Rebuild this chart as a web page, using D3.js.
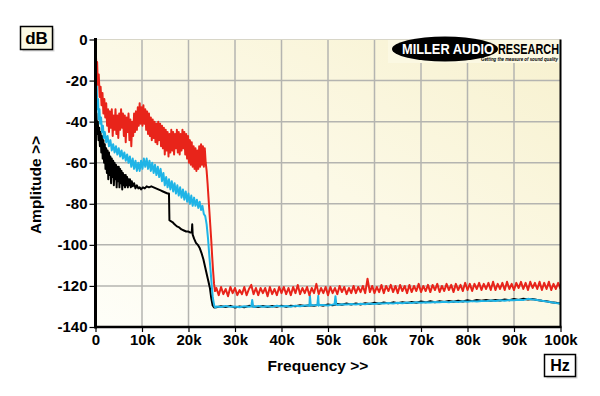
<!DOCTYPE html>
<html><head><meta charset="utf-8">
<script src="https://cdn.jsdelivr.net/npm/d3@7"></script>
<style>html,body{margin:0;padding:0;background:#fff;}svg{display:block;}</style>
</head><body>
<svg id="c" width="600" height="396"></svg>
<script>
// ---- tick labels ----
const xTicks = [0,10,20,30,40,50,60,70,80,90,100];
const xTickLabels = ["0","10k","20k","30k","40k","50k","60k","70k","80k","90k","100k"];
const yTicks = [0,-20,-40,-60,-80,-100,-120,-140];

// ---- passband data [kHz, dB] ----
const redPass = [[0.05,-12],[0.1,-8],[0.2,-14],[0.35,-11],[0.5,-22],[0.7,-17],[0.9,-28],[1.1,-23],[1.3,-32],[1.5,-26],[1.7,-36],[1.9,-29],[2.1,-38],[2.3,-31],[2.5,-42],[2.7,-34],[2.9,-45],[3.1,-35],[3.3,-43],[3.5,-34],[3.7,-47],[3.9,-37],[4.1,-44],[4.3,-34],[4.5,-46],[4.7,-37],[4.9,-48],[5.1,-36],[5.3,-44],[5.5,-34],[5.7,-43],[5.9,-36],[6.1,-47],[6.3,-37],[6.5,-50],[6.7,-38],[6.9,-45],[7.1,-36],[7.3,-49],[7.5,-39],[7.7,-52],[7.9,-40],[8.1,-47],[8.3,-36],[8.5,-45],[8.7,-35],[8.9,-44],[9.1,-33],[9.3,-42],[9.5,-31],[9.7,-41],[9.9,-33],[10.1,-42],[10.3,-32],[10.5,-41],[10.7,-34],[10.9,-44],[11.1,-35],[11.3,-46],[11.5,-36],[11.7,-47],[11.9,-38],[12.1,-49],[12.3,-39],[12.5,-48],[12.7,-40],[12.9,-50],[13.1,-41],[13.3,-51],[13.5,-40],[13.7,-49],[13.9,-41],[14.1,-52],[14.3,-42],[14.5,-53],[14.7,-43],[14.9,-56],[15.1,-44],[15.3,-54],[15.5,-45],[15.7,-57],[15.9,-46],[16.1,-55],[16.3,-44],[16.5,-54],[16.7,-45],[16.9,-56],[17.1,-46],[17.3,-53],[17.5,-44],[17.7,-55],[17.9,-45],[18.1,-56],[18.3,-46],[18.5,-54],[18.7,-44],[18.9,-53],[19.1,-45],[19.3,-56],[19.5,-46],[19.7,-58],[19.9,-47],[20.1,-60],[20.3,-49],[20.5,-61],[20.7,-50],[20.9,-62],[21.1,-52],[21.3,-63],[21.5,-53],[21.7,-64],[21.9,-54],[22.1,-63],[22.3,-52],[22.5,-62],[22.7,-51],[22.9,-61],[23.1,-52],[23.3,-62],[23.5,-53],[23.7,-60],[23.9,-64],[24.1,-70],[24.3,-77],[24.5,-84],[24.7,-91],[24.9,-98],[25.1,-106],[25.3,-113],[25.5,-119],[25.7,-122.5],[25.9,-122]];

const cyanPass = [[0.05,-24],[0.15,-31],[0.25,-22],[0.4,-34],[0.55,-29],[0.7,-39],[0.85,-34],[1.0,-41],[1.2,-38],[1.4,-45],[1.6,-42],[1.8,-48],[2.0,-45],[2.3,-50],[2.6,-47],[2.9,-52],[3.2,-49],[3.5,-54],[3.8,-51],[4.1,-55],[4.4,-52],[4.7,-56],[5.0,-53],[5.3,-57],[5.6,-54],[5.9,-58],[6.2,-55],[6.5,-59],[6.8,-56],[7.1,-60],[7.4,-57],[7.7,-62],[8.0,-58],[8.3,-63],[8.6,-59],[8.9,-64],[9.2,-60],[9.5,-64],[9.8,-59],[10.1,-63],[10.4,-58],[10.7,-62],[11.0,-58],[11.3,-63],[11.6,-59],[11.9,-64],[12.2,-60],[12.5,-65],[12.8,-61],[13.1,-66],[13.4,-62],[13.7,-67],[14.0,-63],[14.3,-69],[14.6,-65],[14.9,-71],[15.2,-67],[15.5,-72],[15.8,-68],[16.1,-73],[16.4,-69],[16.7,-74],[17.0,-70],[17.3,-75],[17.6,-71],[17.9,-76],[18.2,-72],[18.5,-77],[18.8,-73],[19.1,-78],[19.4,-74],[19.7,-79],[20.0,-75],[20.3,-80],[20.6,-76],[20.9,-81],[21.2,-77],[21.5,-81],[21.8,-78],[22.1,-82],[22.4,-79],[22.7,-83],[23.0,-81],[23.3,-85],[23.6,-86],[23.9,-90],[24.2,-97],[24.5,-106],[24.8,-114],[25.0,-120],[25.2,-125],[25.4,-128],[25.6,-130],[25.8,-130.5]];

const blackPass = [[0.05,-40],[0.2,-36],[0.35,-46],[0.5,-40],[0.65,-49],[0.8,-43],[0.95,-52],[1.1,-45],[1.25,-55],[1.4,-47],[1.55,-58],[1.7,-49],[1.85,-60],[2.0,-51],[2.15,-63],[2.3,-53],[2.45,-65],[2.6,-54],[2.75,-68],[2.9,-55],[3.05,-66],[3.2,-57],[3.35,-70],[3.5,-58],[3.65,-67],[3.8,-59],[3.95,-71],[4.1,-60],[4.25,-68],[4.4,-61],[4.55,-72],[4.7,-62],[4.85,-69],[5.0,-62],[5.15,-72],[5.3,-63],[5.45,-70],[5.6,-64],[5.75,-73],[5.9,-65],[6.05,-71],[6.2,-66],[6.35,-72],[6.5,-66],[6.65,-71],[6.8,-67],[6.95,-72],[7.1,-68],[7.25,-71],[7.4,-68],[7.6,-72],[7.8,-69],[8.0,-71.5],[8.3,-70],[8.6,-72.5],[8.9,-71],[9.2,-72.5],[9.5,-72],[9.8,-73],[10.2,-72],[10.6,-72.5],[11.0,-71.5],[11.5,-72],[12.0,-71.5],[12.5,-72],[13.0,-72.5],[13.5,-73],[14.0,-73.5],[14.5,-74],[15.0,-74.5],[15.5,-75],[15.8,-75],[15.9,-88],[16.2,-88.5],[16.6,-89],[17.0,-90],[17.5,-91],[18.0,-91.5],[18.5,-92.5],[19.0,-93],[19.5,-93.5],[20.0,-93.5],[20.4,-94],[20.7,-94],[20.8,-90],[20.9,-95],[21.2,-97],[21.6,-99],[22.0,-100],[22.4,-101.5],[22.8,-104],[23.2,-107],[23.6,-111],[24.0,-115],[24.3,-118],[24.6,-121],[24.9,-126],[25.2,-129.5],[25.5,-130.5]];

// ---- noise floor data, 26k..100k ----
const redFloorStart = 26, redFloorStep = 0.5;
const redFloor = [
 -121,-124.5,-120.5,-124,-121.5,-125,-120.5,-123.5,-121,-124.5,-122,-124,-120.5,-124.5,-121.5,-119.5,-124,-121,-124.5,-121,
 -123.5,-121,-125,-120.5,-124,-121.5,-124.5,-120.5,-123.5,-120.5,-124,-121,-124.5,-120.5,-123.5,-119.5,-124,-121,-123.5,-120.5,
 -124.5,-121,-123.5,-119,-124,-121,-123.5,-120.5,-124.5,-120.5,-123.5,-121,-124,-120,-123,-120.5,-124,-121,-123.5,-120,
 -123.5,-120.5,-123,-120,-123.5,-116.5,-123,-120,-123.5,-120.5,-123,-119.5,-123.5,-120,-122.5,-119.5,-123,-120,-123.5,-119.5,
 -122.5,-120,-123.5,-119.5,-123,-120,-122.5,-119,-123,-120,-122.5,-119.5,-123,-119.5,-122,-119,-123,-120,-122.5,-119,
 -122,-119.5,-123,-119,-122,-119.5,-122.5,-118.5,-122,-119,-122.5,-119,-121.5,-118.5,-122,-119,-121.5,-118.5,-122,-118,
 -122,-119,-121.5,-118.5,-122,-118,-121.5,-119,-122,-118.5,-121,-118,-121.5,-118.5,-122,-118,-121,-118.5,-121.5,-118,
 -122,-118.5,-121.5,-118,-122,-119,-121.5,-118.5,-121.5];

const lowFloorStart = 26, lowFloorStep = 1;
const cyanFloor = [-130,-130.3,-129.8,-130.2,-130,-130.4,-129.9,-130.1,-130.3,-129.8,-130.1,-129.9,-130.2,-129.7,-130,-129.8,-130.1,-129.6,-129.9,-129.5,-129.8,-129.4,-129.6,-129.3,-129.5,-129.1,-129.3,-128.9,-129.1,-128.8,-129,-128.7,-128.9,-128.6,-128.8,-128.4,-128.6,-128.3,-128.5,-128.2,-128.4,-128.1,-128.3,-128,-128.2,-127.9,-128.1,-127.8,-128,-127.7,-127.9,-127.6,-127.8,-127.5,-127.7,-127.4,-127.6,-127.3,-127.4,-127.1,-127.3,-127,-127.2,-126.8,-127,-126.7,-126.9,-126.3,-126.6,-126.9,-127.2,-127.6,-127.9,-128.3,-128.6];
const cyanSpikes = [[33.5,-130],[33.7,-126.8],[33.9,-129.9],[45.9,-129.4],[46.1,-124.6],[46.3,-129.4],[47.7,-129.3],[47.9,-124.8],[48.1,-129.3],[51.4,-129],[51.6,-125],[51.8,-129]];
const blackFloor = [-130.4,-129.9,-130.3,-129.7,-130.5,-130,-130.4,-129.7,-130,-130.3,-129.8,-130.3,-129.8,-130.1,-129.6,-130.2,-129.7,-129.9,-129.4,-129.8,-129.4,-129.7,-129.2,-129.6,-129,-129.4,-128.8,-129.2,-128.6,-129.1,-128.5,-129,-128.4,-128.8,-128.2,-128.7,-128.1,-128.5,-128,-128.4,-127.9,-128.3,-127.8,-128.2,-127.6,-128,-127.5,-127.9,-127.4,-127.8,-127.3,-127.7,-127.2,-127.6,-127,-127.4,-126.9,-127.2,-126.8,-127.2,-126.8,-127.1,-126.6,-127,-126.4,-126.8,-126.2,-126.6,-126.4,-126.8,-127.2,-127.5,-127.9,-128.2,-128.5];

// ---- build series ----
function floorSeries(start, step, vals){ return vals.map((v,i)=>[start+i*step, v]); }
const redData = redPass.concat(floorSeries(redFloorStart, redFloorStep, redFloor));
const cyanData = cyanPass.concat(floorSeries(lowFloorStart, lowFloorStep, cyanFloor), cyanSpikes).sort((a,b)=>a[0]-b[0]);
const blackData = blackPass.concat(floorSeries(lowFloorStart, lowFloorStep, blackFloor));

const svg = d3.select("#c");
const FONT = "'Liberation Sans', Arial, sans-serif";
const L = 95.5, R = 560.5, T = 39.5, B = 327;
const x = d3.scaleLinear().domain([0,100]).range([L,R]);
const y = d3.scaleLinear().domain([-140,0]).range([B,T]);

const defs = svg.append("defs");
const grad = defs.append("linearGradient").attr("id","bg").attr("x1","0").attr("y1","1").attr("x2","1").attr("y2","0");
grad.append("stop").attr("offset","0").attr("stop-color","#fefef8");
grad.append("stop").attr("offset","0.5").attr("stop-color","#fcf9e6");
grad.append("stop").attr("offset","1").attr("stop-color","#f7f1cf");
defs.append("clipPath").attr("id","clip").append("rect").attr("x",L).attr("y",T).attr("width",R-L).attr("height",B-T);

svg.append("rect").attr("x",L).attr("y",T).attr("width",R-L).attr("height",B-T).attr("fill","url(#bg)");

// grid
const g = svg.append("g");
g.selectAll(".vg").data(xTicks.slice(1,-1)).enter().append("line")
  .attr("x1",d=>x(d)).attr("x2",d=>x(d)).attr("y1",T).attr("y2",B)
  .attr("stroke","#b4b4b0").attr("stroke-width",1.5);
g.selectAll(".hg").data(yTicks.slice(1,-1)).enter().append("line")
  .attr("x1",L).attr("x2",R).attr("y1",d=>y(d)).attr("y2",d=>y(d))
  .attr("stroke","#b4b4b0").attr("stroke-width",1.5);

// logo background
svg.append("rect").attr("x",388).attr("y",T+0.5).attr("width",R-388-1).attr("height",23).attr("fill","#fbf8e2");

// traces
const line = d3.line().x(d=>x(d[0])).y(d=>y(d[1]));
const tr = svg.append("g").attr("clip-path","url(#clip)");
tr.append("path").datum(blackData).attr("d",line).attr("fill","none").attr("stroke","#000").attr("stroke-width",2).attr("stroke-linejoin","round");
tr.append("path").datum(cyanData).attr("d",line).attr("fill","none").attr("stroke","#1fb4e6").attr("stroke-width",2).attr("stroke-linejoin","round");
tr.append("path").datum(redData).attr("d",line).attr("fill","none").attr("stroke","#e8241a").attr("stroke-width",2).attr("stroke-linejoin","round");

// frame
svg.append("line").attr("x1",L).attr("x2",R).attr("y1",T).attr("y2",T).attr("stroke","#d8d6c8").attr("stroke-width",1);
svg.append("line").attr("x1",R).attr("x2",R).attr("y1",T).attr("y2",B).attr("stroke","#000").attr("stroke-width",2);

// axes
const yAxis = d3.axisLeft(y).tickValues(yTicks).tickSize(5).tickPadding(2).tickFormat(d=>String(d));
const xAxis = d3.axisBottom(x).tickValues(xTicks).tickSize(5).tickPadding(2).tickFormat((d,i)=>xTickLabels[i]);
const ya = svg.append("g").attr("transform",`translate(${L-1},0)`).call(yAxis);
const xa = svg.append("g").attr("transform",`translate(0,${B})`).call(xAxis);
[ya,xa].forEach(a=>{
  a.select(".domain").remove();
  a.selectAll(".tick line").attr("stroke","#000").attr("stroke-width",1.2);
  a.selectAll("text").attr("fill","#000").style("font-family",FONT).style("font-weight","bold").style("font-size","15px");
});
svg.append("line").attr("x1",L).attr("x2",L).attr("y1",T-1.5).attr("y2",B+1.5).attr("stroke","#000").attr("stroke-width",3);
svg.append("line").attr("x1",L).attr("x2",R+1).attr("y1",B).attr("y2",B).attr("stroke","#000").attr("stroke-width",2.5);

// axis titles
svg.append("text").attr("x",318).attr("y",371).attr("text-anchor","middle")
  .style("font-family",FONT).style("font-weight","bold").style("font-size","15.5px").text("Frequency >>");
svg.append("text").attr("transform","translate(41,185) rotate(-90)").attr("text-anchor","middle")
  .style("font-family",FONT).style("font-weight","bold").style("font-size","15.5px").text("Amplitude >>");

// unit boxes
function unitBox(x0,y0,w,h,fill,label,fs){
  svg.append("rect").attr("x",x0+2).attr("y",y0+2).attr("width",w).attr("height",h).attr("fill","#d8d8d8");
  svg.append("rect").attr("x",x0).attr("y",y0).attr("width",w).attr("height",h).attr("fill",fill).attr("stroke","#000").attr("stroke-width",1.5);
  svg.append("text").attr("x",x0+w/2).attr("y",y0+h/2+fs*0.36).attr("text-anchor","middle")
    .style("font-family",FONT).style("font-weight","bold").style("font-size",fs+"px").text(label);
}
unitBox(20.5,26.5,32,23,"#fbf9e4","dB",17);
unitBox(544.5,354.5,31,22,"#ffffff","Hz",16);

// logo
svg.append("ellipse").attr("cx",445).attr("cy",49).attr("rx",53).attr("ry",12.5).attr("fill","#000");
svg.append("text").attr("x",402).attr("y",53.5).attr("textLength",92).attr("lengthAdjust","spacingAndGlyphs")
  .style("font-family",FONT).style("font-weight","bold").style("font-size","14px").attr("fill","#fff").text("MILLER AUDIO");
svg.append("text").attr("x",498).attr("y",53.5).attr("textLength",61).attr("lengthAdjust","spacingAndGlyphs")
  .style("font-family",FONT).style("font-weight","bold").style("font-size","14px").attr("fill","#000").text("RESEARCH");
svg.append("text").attr("x",481).attr("y",61).attr("textLength",77).attr("lengthAdjust","spacingAndGlyphs")
  .style("font-family",FONT).style("font-weight","bold").style("font-style","italic").style("font-size","5.5px").attr("fill","#000").text("Getting the measure of sound quality");
</script>
</body></html>
